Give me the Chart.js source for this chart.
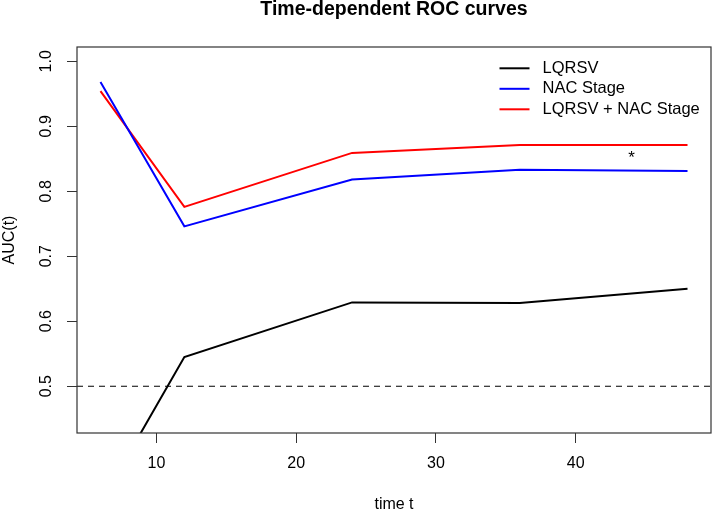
<!DOCTYPE html>
<html>
<head>
<meta charset="utf-8">
<script src="https://cdn.jsdelivr.net/npm/chart.js@4.4.1/dist/chart.umd.min.js"></script>
<style>
  html, body { margin: 0; padding: 0; background: #fff; }
  #wrap { width: 714px; height: 512px; position: relative; }
</style>
</head>
<body>
<div id="wrap"><canvas id="c" width="714" height="512"></canvas></div>
<script>
// ---- data ----
const times = [6, 12, 24, 36, 48];
const seriesNames = ['LQRSV', 'NAC Stage', 'LQRSV + NAC Stage'];
const lqrsv = [0.32, 0.545, 0.629, 0.628, 0.650];
const nacStage = [0.968, 0.746, 0.818, 0.833, 0.831];
const combined = [0.954, 0.776, 0.859, 0.871, 0.871];
const seriesColors = ['#000000', '#0000ff', '#ff0000'];
const xTickValues = [10, 20, 30, 40];
const yTickValues = [0.5, 0.6, 0.7, 0.8, 0.9, 1.0];
const xRange = [4.32, 49.68];
const yRange = [0.428, 1.022];
const refLineY = [0.5];
const noteX = [44];
const noteY = [0.85];
const noteText = ['*'];
const chartTitle = 'Time-dependent ROC curves';
const xTitle = 'time t';
const yTitle = 'AUC(t)';

const FONT = "'Liberation Sans', Arial, Helvetica, sans-serif";
Chart.defaults.font.family = FONT;
Chart.defaults.color = '#000';

const allSeries = [lqrsv, nacStage, combined];
const datasets = allSeries.map((vals, i) => ({
  label: seriesNames[i],
  data: times.map((t, j) => ({ x: t, y: vals[j] })),
  borderColor: seriesColors[i],
  backgroundColor: seriesColors[i],
  borderWidth: 2,
  pointRadius: 0,
  tension: 0,
  fill: false
}));

const extras = {
  id: 'extras',
  beforeDatasetsDraw(chart) {
    const { ctx, chartArea: a, scales: { y } } = chart;
    ctx.save();
    ctx.strokeStyle = '#000';
    ctx.lineWidth = 1.1;
    ctx.setLineDash([6, 5]);
    refLineY.forEach(v => {
      const py = y.getPixelForValue(v);
      ctx.beginPath();
      ctx.moveTo(a.left, py);
      ctx.lineTo(a.right, py);
      ctx.stroke();
    });
    ctx.restore();
  },
  afterDraw(chart) {
    const { ctx, chartArea: a, scales: { x, y } } = chart;
    ctx.save();
    // plot box
    ctx.strokeStyle = '#333';
    ctx.lineWidth = 1.2;
    ctx.strokeRect(a.left, a.top, a.right - a.left, a.bottom - a.top);
    // note text
    ctx.fillStyle = '#000';
    ctx.font = '17px ' + FONT;
    ctx.textAlign = 'center';
    ctx.textBaseline = 'middle';
    noteText.forEach((s, i) => ctx.fillText(s, x.getPixelForValue(noteX[i]), y.getPixelForValue(noteY[i])));
    // legend
    ctx.font = '16.5px ' + FONT;
    const lx0 = a.right - 211.5, lx1 = a.right - 181.5, tx = a.right - 168.5;
    const ly0 = a.top + 21.3, dy = 20.5;
    ctx.textAlign = 'left';
    chart.data.datasets.forEach((ds, i) => {
      const ly = ly0 + i * dy;
      ctx.strokeStyle = ds.borderColor;
      ctx.lineWidth = 2;
      ctx.beginPath();
      ctx.moveTo(lx0, ly);
      ctx.lineTo(lx1, ly);
      ctx.stroke();
      ctx.fillStyle = '#000';
      ctx.fillText(ds.label, tx, ly);
    });
    ctx.restore();
  }
};

new Chart(document.getElementById('c'), {
  type: 'line',
  data: { datasets },
  options: {
    responsive: false,
    animation: false,
    layout: { padding: { left: 0, right: 3, top: 0, bottom: 0 } },
    plugins: {
      legend: { display: false },
      tooltip: { enabled: false },
      title: {
        display: true,
        text: chartTitle,
        fullSize: false,
        color: '#000',
        font: { size: 19.5, weight: 'bold', lineHeight: 1 },
        padding: { top: 0, bottom: 27.5 }
      }
    },
    scales: {
      x: {
        type: 'linear',
        min: xRange[0],
        max: xRange[1],
        bounds: 'data',
        afterBuildTicks: s => { s.ticks = xTickValues.map(v => ({ value: v })); },
        afterFit: s => { s.height = 79; },
        ticks: { font: { size: 16 }, padding: 11, autoSkip: false, maxRotation: 0, color: '#000', callback: v => String(v) },
        grid: { display: true, drawOnChartArea: false, drawTicks: true, tickLength: 10, color: '#333', lineWidth: 1 },
        border: { display: false },
        title: { display: true, text: xTitle, color: '#000', font: { size: 16, lineHeight: 1 }, padding: { top: 0, bottom: -1 } }
      },
      y: {
        type: 'linear',
        min: yRange[0],
        max: yRange[1],
        bounds: 'data',
        afterBuildTicks: s => { s.ticks = yTickValues.map(v => ({ value: v })); },
        afterFit: s => { s.width = 77; },
        ticks: { font: { size: 16 }, padding: 9, minRotation: 90, maxRotation: 90, crossAlign: 'center', color: '#000', callback: v => Number(v).toFixed(1) },
        grid: { display: true, drawOnChartArea: false, drawTicks: true, tickLength: 10, color: '#333', lineWidth: 1 },
        border: { display: false },
        title: { display: true, text: yTitle, color: '#000', font: { size: 16, lineHeight: 1.2 }, padding: { top: 0, bottom: 0 } }
      }
    }
  },
  plugins: [extras]
});
</script>
</body>
</html>
